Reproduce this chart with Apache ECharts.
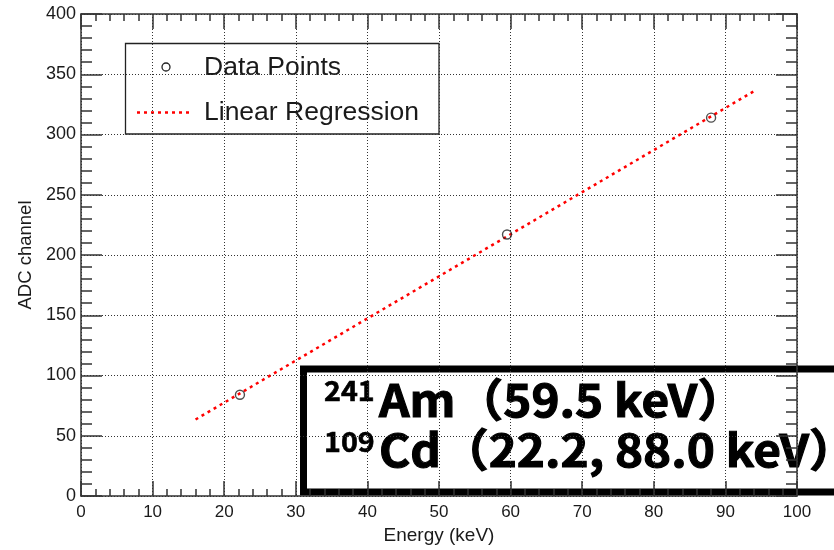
<!DOCTYPE html>
<html>
<head>
<meta charset="utf-8">
<title>ADC calibration</title>
<script src="https://cdn.jsdelivr.net/npm/echarts@6/dist/echarts.min.js"></script>
<style>
  html, body { margin: 0; padding: 0; background: #ffffff; }
  #chart { width: 834px; height: 550px; }
</style>
</head>
<body>
<div id="chart"></div>
<script>
// Calibration points: photon energy (keV) vs. measured ADC channel
const energyKeV = [22.2, 59.5, 88.0];
const adcChannel = [84, 217, 314];

// Straight-line fit, drawn between its two end points
const fitEnergy = [16, 94];
const fitChannel = [63.5, 336];

// Legend entries
const legendLabels = ['Data Points', 'Linear Regression'];

// Source list shown in the bottom box
const sourceIsotopes = ['241', '109'];
const sourceLabels = ['Am（59.5 keV）', 'Cd（22.2, 88.0 keV）'];

const uiFont = '"Liberation Sans", Arial, Helvetica, sans-serif';
const cjkFont = '"Noto Sans CJK JP", "Noto Sans CJK SC", sans-serif';
const axisColor = '#333333';
const textColor = '#1a1a1a';

const chart = echarts.init(document.getElementById('chart'), null, { renderer: 'canvas' });

function frameAxis(extra) {
  return Object.assign({
    type: 'value',
    axisLine: { show: true, onZero: false, lineStyle: { color: axisColor, width: 1.5 } },
    axisLabel: { show: false },
    splitLine: { show: false }
  }, extra);
}

const gridLine = { show: true, lineStyle: { type: [1, 2], color: '#333333', width: 1 } };

const option = {
  animation: false,
  backgroundColor: '#ffffff',
  grid: { left: 81, right: 37, top: 14, bottom: 53, containLabel: false },
  xAxis: [
    frameAxis({
      position: 'bottom', min: 0, max: 100, interval: 10,
      name: 'Energy (keV)', nameLocation: 'middle', nameGap: 30,
      nameTextStyle: { fontFamily: uiFont, fontSize: 19, color: textColor },
      axisTick: { show: true, inside: true, length: 15, lineStyle: { color: axisColor, width: 1.5 } },
      minorTick: { show: true, splitNumber: 5, length: 7, lineStyle: { color: axisColor, width: 1.5 } },
      axisLabel: { show: true, fontFamily: uiFont, fontSize: 17, color: textColor, margin: 8 },
      splitLine: gridLine
    }),
    frameAxis({
      position: 'top', min: 0, max: 100, interval: 10,
      axisTick: { show: true, inside: true, length: 15, lineStyle: { color: axisColor, width: 1.5 } },
      minorTick: { show: true, splitNumber: 5, length: 7, lineStyle: { color: axisColor, width: 1.5 } }
    })
  ],
  yAxis: [
    frameAxis({
      position: 'left', min: 0, max: 400, interval: 50,
      name: 'ADC channel', nameLocation: 'middle', nameGap: 45, nameRotate: 90,
      nameTextStyle: { fontFamily: uiFont, fontSize: 18.5, color: textColor },
      axisTick: { show: true, inside: true, length: 21, lineStyle: { color: axisColor, width: 1.5 } },
      minorTick: { show: true, splitNumber: 5, length: 11, lineStyle: { color: axisColor, width: 1.5 } },
      axisLabel: { show: true, fontFamily: uiFont, fontSize: 18, color: textColor, margin: 5 },
      splitLine: gridLine
    }),
    frameAxis({
      position: 'right', min: 0, max: 400, interval: 50,
      axisTick: { show: true, inside: true, length: 21, lineStyle: { color: axisColor, width: 1.5 } },
      minorTick: { show: true, splitNumber: 5, length: 11, lineStyle: { color: axisColor, width: 1.5 } }
    })
  ],
  series: [
    {
      name: legendLabels[1],
      type: 'line',
      xAxisIndex: 0, yAxisIndex: 0,
      data: fitEnergy.map((e, i) => [e, fitChannel[i]]),
      showSymbol: false,
      lineStyle: { color: '#ff0000', width: 2.5, type: [3, 4] },
      z: 3
    },
    {
      name: legendLabels[0],
      type: 'scatter',
      xAxisIndex: 0, yAxisIndex: 0,
      data: energyKeV.map((e, i) => [e, adcChannel[i]]),
      symbol: 'circle',
      symbolSize: 9,
      itemStyle: { color: 'rgba(0,0,0,0)', borderColor: '#222222', borderWidth: 1.4 },
      z: 4
    }
  ],
  graphic: []
};

// Legend panel
const legendGroup = {
  type: 'group', z: 10,
  children: [
    { type: 'rect', shape: { x: 125.5, y: 43.5, width: 313.5, height: 90.5 },
      style: { fill: '#ffffff', stroke: '#222222', lineWidth: 1.3 } },
    { type: 'circle', shape: { cx: 166, cy: 67, r: 4 },
      style: { fill: 'rgba(0,0,0,0)', stroke: '#222222', lineWidth: 1.3 } },
    { type: 'line', shape: { x1: 137, y1: 112.5, x2: 192, y2: 112.5 },
      style: { stroke: '#ff0000', lineWidth: 2.5, lineDash: [3, 4] } },
    { type: 'text', x: 204, y: 68,
      style: { text: legendLabels[0], font: '26.5px ' + uiFont, fill: textColor, verticalAlign: 'middle' } },
    { type: 'text', x: 204, y: 113,
      style: { text: legendLabels[1], font: '26.5px ' + uiFont, fill: textColor, verticalAlign: 'middle' } }
  ]
};

// Source box with isotope labels (glyphs widened slightly)
const sourceChildren = [
  { type: 'rect', shape: { x: 303.5, y: 369, width: 560, height: 123 },
    style: { fill: '#ffffff', stroke: '#000000', lineWidth: 7 } }
];
const lineCentres = [399.5, 449.8];
const widen = 1.06;
sourceIsotopes.forEach((iso, i) => {
  sourceChildren.push({
    type: 'text', x: 324, y: lineCentres[i] - 8.5, scaleX: widen,
    style: { text: iso, font: 'bold 27px ' + cjkFont, fill: '#000000',
             stroke: '#000000', lineWidth: 0.6, verticalAlign: 'middle' }
  });
  sourceChildren.push({
    type: 'text', x: 379, y: lineCentres[i], scaleX: widen,
    style: { text: sourceLabels[i], font: 'bold 45px ' + cjkFont, fill: '#000000',
             stroke: '#000000', lineWidth: 1.1, verticalAlign: 'middle' }
  });
});
const sourceGroup = { type: 'group', z: 10, children: sourceChildren };

option.graphic = [legendGroup, sourceGroup];
chart.setOption(option);
</script>
</body>
</html>
